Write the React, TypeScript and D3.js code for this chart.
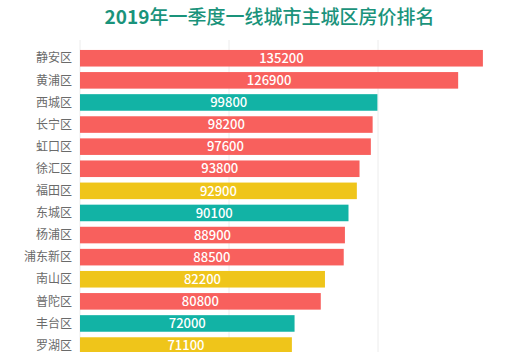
import React from "react";
import * as d3 from "d3";

const districts = ["静安区","黄浦区","西城区","长宁区","虹口区","徐汇区","福田区","东城区","杨浦区","浦东新区","南山区","普陀区","丰台区","罗湖区"];
const prices = [135200,126900,99800,98200,97600,93800,92900,90100,88900,88500,82200,80800,72000,71100];
const cities = ["上海","上海","北京","上海","上海","上海","深圳","北京","上海","上海","深圳","上海","北京","深圳"];
const cityColors: Record<string, string> = { "上海": "#f8605d", "北京": "#12b3a5", "深圳": "#efc51a" };
const gridTicks = [0, 50000, 100000, 150000];

export default function App() {
  const W = 515, H = 352;
  const x = d3.scaleLinear().domain([0, 150000]).range([80, 527]);
  const y = d3.scaleBand<string>().domain(districts).range([47.2, 47.2 + 14 * 22.1]).paddingInner(0.25).paddingOuter(0.125);
  const font = "'Noto Sans CJK SC', 'Noto Sans', sans-serif";
  return (
    <svg width={W} height={H} style={{ position: "absolute", left: 0, top: 0, background: "#fff" }}>
      <text x={W / 2 + 12} y={24} textAnchor="middle" fontFamily={font} fontSize={19} fontWeight={500} fill="#1a937b">
        <tspan fontWeight="bold">2019</tspan>年一季度一线城市主城区房价排名
      </text>
      {gridTicks.map((t) => (
        <line key={t} x1={x(t)} x2={x(t)} y1={40} y2={H} stroke="#ececec" strokeWidth={1} />
      ))}
      {districts.map((d, i) => (
        <g key={d}>
          <rect x={x(0)} y={y(d)} width={x(prices[i]) - x(0)} height={y.bandwidth()} fill={cityColors[cities[i]]} />
          <text x={72} y={(y(d) as number) + y.bandwidth() / 2} dy="0.35em" textAnchor="end" fontFamily={font} fontSize={12} fill="#6a6a6a">
            {d}
          </text>
          <text x={(x(0) + x(prices[i])) / 2} y={(y(d) as number) + y.bandwidth() / 2} dy="0.36em" textAnchor="middle" fontFamily={font} fontSize={13} fontWeight={500} fill="#fff">
            {prices[i]}
          </text>
        </g>
      ))}
    </svg>
  );
}
